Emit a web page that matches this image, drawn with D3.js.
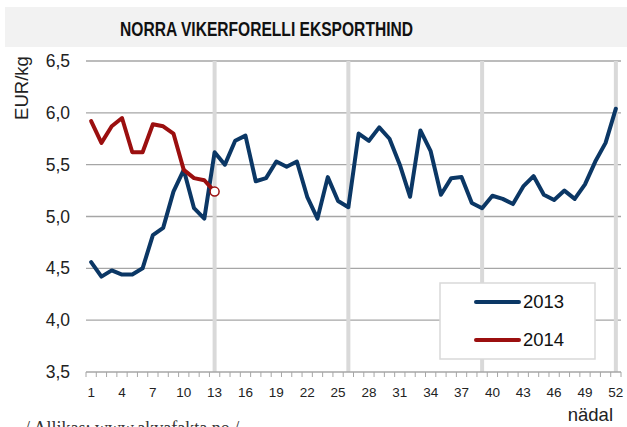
<!DOCTYPE html>
<html>
<head>
<meta charset="utf-8">
<script src="https://cdn.jsdelivr.net/npm/d3@7"></script>
<style>
  body { margin: 0; background: #fff; }
  svg { display: block; }
</style>
</head>
<body>
<svg id="svg" width="627" height="427"></svg>
<script>
// weekly export price, EUR/kg
let weeks = d3.range(1, 53);
let values2013 = [4.56, 4.42, 4.48, 4.44, 4.44, 4.50, 4.82, 4.89, 5.24, 5.45,
  5.08, 4.98, 5.62, 5.50, 5.73, 5.78, 5.34, 5.37, 5.53, 5.48,
  5.53, 5.19, 4.98, 5.38, 5.15, 5.09, 5.80, 5.73, 5.86, 5.75,
  5.50, 5.19, 5.83, 5.63, 5.21, 5.37, 5.38, 5.13, 5.08, 5.20,
  5.17, 5.12, 5.29, 5.39, 5.21, 5.16, 5.25, 5.17, 5.31, 5.53,
  5.71, 6.04];
let values2014 = [5.92, 5.71, 5.87, 5.95, 5.62, 5.62, 5.89, 5.87, 5.80, 5.45,
  5.37, 5.35, 5.24];
let yTicks = [3.5, 4.0, 4.5, 5.0, 5.5, 6.0, 6.5];
let xTickWeeks = [1, 4, 7, 10, 13, 16, 19, 22, 25, 28, 31, 34, 37, 40, 43, 46, 49, 52];
let quarterWeeks = [13, 26, 39, 52];
let seriesNames = ["2013", "2014"];
let colors = ["#0b3765", "#9b0f0f"];

let svg = d3.select("#svg");
let margin = { top: 61, right: 6, bottom: 55, left: 86 };
let width = 627 - margin.left - margin.right;
let height = 427 - margin.top - margin.bottom;

// title band
svg.append("rect")
  .attr("x", 5).attr("y", 7).attr("width", 622).attr("height", 40)
  .attr("fill", "#f2f2f2");
svg.append("text")
  .attr("x", 266.5).attr("y", 36)
  .attr("text-anchor", "middle")
  .attr("font-family", "Liberation Sans, Arial, sans-serif")
  .attr("font-weight", "bold")
  .attr("font-size", 20)
  .attr("textLength", 293)
  .attr("lengthAdjust", "spacingAndGlyphs")
  .attr("fill", "#111")
  .text("NORRA VIKERFORELLI EKSPORTHIND");

let g = svg.append("g")
  .attr("transform", "translate(" + margin.left + "," + margin.top + ")");

let x = d3.scaleBand().domain(weeks).range([0, width]).padding(0);
let xc = function(w) { return x(w) + x.bandwidth() / 2; };
let y = d3.scaleLinear().domain([3.5, 6.5]).range([height, 0]);

let fmt = function(v) { return d3.format(".1f")(v).replace(".", ","); };

// horizontal gridlines
g.append("g")
  .selectAll("line")
  .data(yTicks.slice(1))
  .enter().append("line")
  .attr("x1", 0).attr("x2", width)
  .attr("y1", function(d) { return y(d); })
  .attr("y2", function(d) { return y(d); })
  .attr("stroke", "#a6a6a6")
  .attr("stroke-width", 1.3);

// quarter markers
g.append("g")
  .selectAll("line")
  .data(quarterWeeks)
  .enter().append("line")
  .attr("x1", function(d) { return xc(d); })
  .attr("x2", function(d) { return xc(d); })
  .attr("y1", 0).attr("y2", height)
  .attr("stroke", "#d9d9d9")
  .attr("stroke-width", 4);

// x axis
let xAxis = g.append("g")
  .attr("transform", "translate(0," + height + ")");
xAxis.append("line")
  .attr("x1", 0).attr("x2", width)
  .attr("stroke", "#a6a6a6").attr("stroke-width", 1.3);
xAxis.selectAll(".tick")
  .data(weeks.concat([53]))
  .enter().append("line")
  .attr("x1", function(d) { return d === 53 ? width : x(d); })
  .attr("x2", function(d) { return d === 53 ? width : x(d); })
  .attr("y1", 0).attr("y2", 5)
  .attr("stroke", "#a6a6a6").attr("stroke-width", 1);
xAxis.selectAll("text")
  .data(xTickWeeks)
  .enter().append("text")
  .attr("x", function(d) { return xc(d); })
  .attr("y", 25)
  .attr("text-anchor", "middle")
  .attr("font-family", "Liberation Sans, Arial, sans-serif")
  .attr("font-size", 13.5)
  .attr("fill", "#222")
  .text(function(d) { return d; });

// y labels
g.append("g")
  .selectAll("text")
  .data(yTicks)
  .enter().append("text")
  .attr("x", -16)
  .attr("y", function(d) { return y(d); })
  .attr("dy", "0.35em")
  .attr("text-anchor", "end")
  .attr("font-family", "Liberation Sans, Arial, sans-serif")
  .attr("font-size", 17.5)
  .attr("fill", "#222")
  .text(fmt);

svg.append("text")
  .attr("transform", "translate(28,88) rotate(-90)")
  .attr("text-anchor", "middle")
  .attr("font-family", "Liberation Sans, Arial, sans-serif")
  .attr("font-size", 18.5)
  .attr("fill", "#222")
  .text("EUR/kg");

svg.append("text")
  .attr("x", 613).attr("y", 421)
  .attr("text-anchor", "end")
  .attr("font-family", "Liberation Sans, Arial, sans-serif")
  .attr("font-size", 18.5)
  .attr("fill", "#222")
  .text("nädal");

svg.append("text")
  .attr("x", 25).attr("y", 434)
  .attr("font-family", "Liberation Serif, Times New Roman, serif")
  .attr("font-size", 18)
  .attr("fill", "#333")
  .text("/ Allikas: www.akvafakta.no /");

// lines
let line = d3.line()
  .x(function(d, i) { return xc(weeks[i]); })
  .y(function(d) { return y(d); });

[values2013, values2014].forEach(function(vals, i) {
  g.append("path")
    .datum(vals)
    .attr("fill", "none")
    .attr("stroke", colors[i])
    .attr("stroke-width", 4)
    .attr("stroke-linejoin", "round")
    .attr("stroke-linecap", "round")
    .attr("d", line);
});

// last point of 2014
let last = values2014.length - 1;
g.append("circle")
  .attr("cx", xc(weeks[last]))
  .attr("cy", y(values2014[last]))
  .attr("r", 4.5)
  .attr("fill", "#fff")
  .attr("stroke", colors[1])
  .attr("stroke-width", 1.5);

// legend
let legend = svg.append("g").attr("transform", "translate(440,283)");
legend.append("rect")
  .attr("width", 155).attr("height", 76)
  .attr("fill", "#fff")
  .attr("stroke", "#d9d9d9").attr("stroke-width", 1.5);
seriesNames.forEach(function(name, i) {
  let ly = 19 + i * 38;
  legend.append("line")
    .attr("x1", 36).attr("x2", 79)
    .attr("y1", ly).attr("y2", ly)
    .attr("stroke", colors[i]).attr("stroke-width", 4)
    .attr("stroke-linecap", "round");
  legend.append("text")
    .attr("x", 83).attr("y", ly)
    .attr("dy", "0.35em")
    .attr("font-family", "Liberation Sans, Arial, sans-serif")
    .attr("font-size", 18.5)
    .attr("fill", "#111")
    .text(name);
});
</script>
</body>
</html>
